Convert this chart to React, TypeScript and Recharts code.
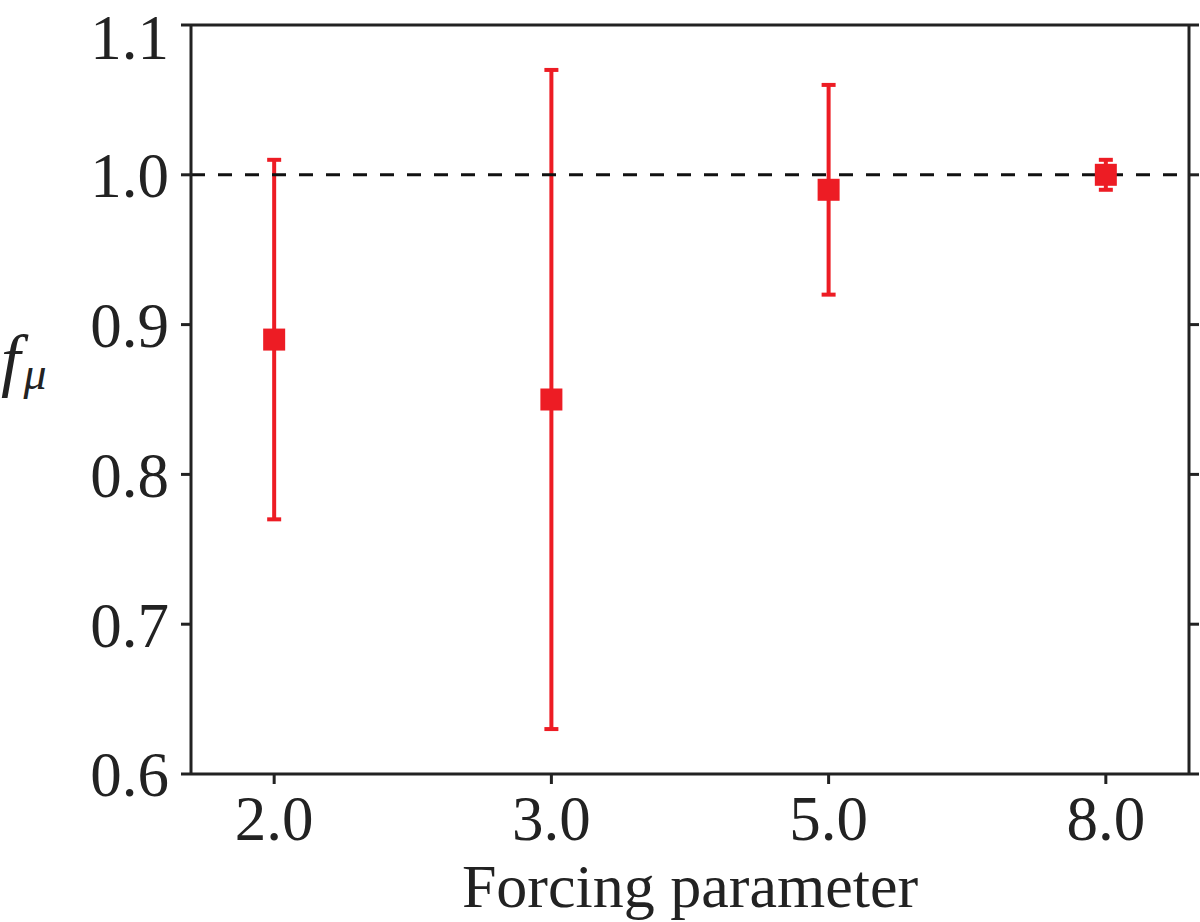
import { ErrorBar, ReferenceLine, Scatter, ScatterChart, XAxis, YAxis } from "recharts";

const categories = ["2.0", "3.0", "5.0", "8.0"];
const fMu = [0.89, 0.85, 0.99, 1.0];
const fMuErr = [0.12, 0.22, 0.07, 0.01];
const xTicks = [0, 1, 2, 3];
const yTicks = [0.6, 0.7, 0.8, 0.9, 1.0, 1.1];
const referenceValue = 1.0;

const RED = "#ed1c24";
const INK = "#222222";
const FONT = '"Liberation Serif", "DejaVu Serif", serif';

const points = categories.map((label, i) => ({ idx: i, label, value: fMu[i], err: fMuErr[i] }));

const tickStyle = { fontSize: 63, fill: INK, fontFamily: FONT };
const lineStyle = { stroke: INK, strokeWidth: 3 };

function Square(props: any) {
  const { cx, cy } = props;
  if (cx == null || cy == null) return null;
  return <rect x={cx - 11} y={cy - 11} width={22} height={22} fill={RED} />;
}

function Nothing() {
  return <g />;
}

function YTitle(props: any) {
  const { viewBox } = props;
  const y = viewBox.y + viewBox.height / 2 - 17;
  return (
    <text x={viewBox.x + 1} y={y} fontFamily={FONT} fontStyle="italic" fill={INK}>
      <tspan fontSize={70}>f</tspan>
      <tspan fontSize={46} dx={3} dy={6}>
        μ
      </tspan>
    </text>
  );
}

function XTitle(props: any) {
  const { viewBox } = props;
  return (
    <text
      x={viewBox.x + viewBox.width / 2}
      y={viewBox.y + viewBox.height - 15}
      textAnchor="middle"
      fontFamily={FONT}
      fontSize={62}
      fill={INK}
    >
      Forcing parameter
    </text>
  );
}

export default function App() {
  return (
    <div style={{ position: "absolute", left: 0, top: 0, background: "#fff" }}>
      <ScatterChart width={1200} height={922} margin={{ top: 0, right: 0, bottom: 0, left: 0 }}>
        <XAxis
          xAxisId="b"
          dataKey="idx"
          type="number"
          domain={[-0.3, 3.3]}
          ticks={xTicks}
          tickFormatter={(v) => categories[v] ?? ""}
          height={148}
          tickSize={10}
          tickMargin={11}
          tick={tickStyle}
          axisLine={lineStyle}
          tickLine={lineStyle}
          allowDataOverflow
          label={<XTitle />}
        />
        <XAxis
          xAxisId="t"
          orientation="top"
          type="number"
          domain={[-0.3, 3.3]}
          ticks={xTicks}
          tickFormatter={() => ""}
          height={25}
          tickSize={10}
          axisLine={lineStyle}
          tickLine={lineStyle}
          allowDataOverflow
        />
        <YAxis
          yAxisId="l"
          dataKey="value"
          type="number"
          domain={[0.6, 1.1]}
          ticks={yTicks}
          tickFormatter={(v) => Number(v).toFixed(1)}
          width={191}
          tickSize={10}
          tickMargin={12}
          tick={tickStyle}
          axisLine={lineStyle}
          tickLine={lineStyle}
          allowDataOverflow
          label={<YTitle />}
        />
        <YAxis
          yAxisId="r"
          orientation="right"
          type="number"
          domain={[0.6, 1.1]}
          ticks={yTicks}
          tickFormatter={() => ""}
          width={11}
          tickSize={10}
          axisLine={lineStyle}
          tickLine={lineStyle}
          allowDataOverflow
        />
        <Scatter xAxisId="b" yAxisId="l" data={points} dataKey="value" shape={<Nothing />} isAnimationActive={false}>
          <ErrorBar dataKey="err" direction="y" width={7} strokeWidth={4} stroke={RED} isAnimationActive={false} />
        </Scatter>
        <ReferenceLine
          xAxisId="b"
          yAxisId="l"
          y={referenceValue}
          stroke="#111"
          strokeWidth={3}
          strokeDasharray="14 13"
        />
        <Scatter xAxisId="b" yAxisId="l" data={points} dataKey="value" shape={<Square />} isAnimationActive={false} />
      </ScatterChart>
    </div>
  );
}
